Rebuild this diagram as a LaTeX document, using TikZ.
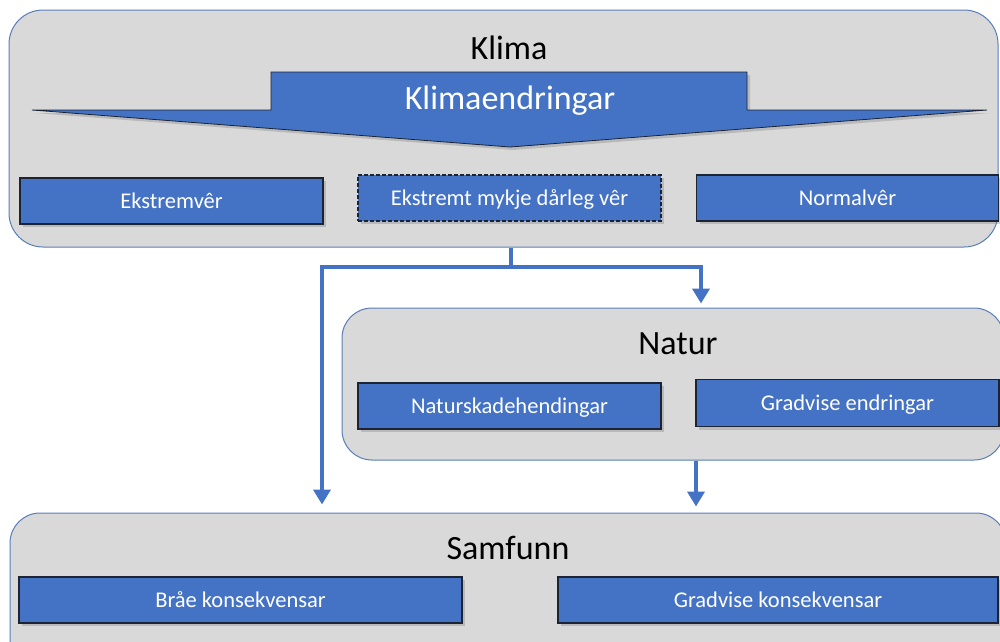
\documentclass[tikz,border=0pt]{standalone}
\usepackage{fontspec}
\setmainfont{Carlito}
\usetikzlibrary{arrows.meta,shadows}
\definecolor{boxblue}{HTML}{4472C4}
\definecolor{panelgray}{HTML}{D9D9D9}
\definecolor{panelline}{HTML}{5A7DB9}
\definecolor{boxline}{HTML}{1C2433}
\begin{document}
\begin{tikzpicture}[x=1pt,y=-1pt,
  panel/.style={rounded corners=34pt, fill=panelgray, draw=panelline, line width=1pt, inner sep=0pt},
  title/.style={font=\fontsize{34}{40}\selectfont, text=black, text height=22pt, text depth=0pt},
  bluebox/.style={fill=boxblue, draw=boxline, line width=1.3pt, text=white,
     font=\fontsize{22.5}{26}\selectfont, inner sep=0pt, text height=14pt, text depth=0pt,
     drop shadow={opacity=0.35, shadow xshift=3pt, shadow yshift=-3pt}},
  dashbox/.style={bluebox, dashed, dash pattern=on 4pt off 2pt},
  conn/.style={draw=boxblue, line width=4pt},
  arr/.style={conn, -{Triangle[width=17pt,length=15pt]}}
]
\useasboundingbox (0,0) rectangle (1000,641);
\clip (0,0) rectangle (1000,641);
\fill[white] (0,0) rectangle (1000,641);

% panels
\node[panel, minimum width=989pt, minimum height=237pt] (klima) at (503.5,128.5) {};
\node[panel, minimum width=662pt, minimum height=152pt, rounded corners=30pt] (natur) at (673,384) {};
\node[panel, minimum width=996pt, minimum height=170pt, rounded corners=30pt] (samfunn) at (508,598) {};

% titles
\node[title] (klimat) at (509,48) {Klima};
\node[title] (naturt) at (678,343) {Natur};
\node[title] (samfunnt) at (508,548) {Samfunn};

% big arrow shape
\path[fill=boxblue, draw=boxline, line width=0.8pt,
  drop shadow={opacity=0.35, shadow xshift=3pt, shadow yshift=-3pt}]
  (32,110) -- (271,110) -- (271,72) -- (747,72) -- (747,110) -- (987,110) -- (510,147) -- cycle;
\node[text=white, font=\fontsize{34}{40}\selectfont, text height=22pt, text depth=0pt] (klimaendr) at (510,98) {Klimaendringar};

% boxes
\node[bluebox, minimum width=303pt, minimum height=46pt] (ekst) at (171.5,201) {Ekstremvêr};
\node[dashbox, minimum width=303pt, minimum height=46pt] (dlv) at (509.5,198) {Ekstremt mykje dårleg vêr};
\node[bluebox, minimum width=302pt, minimum height=46pt] (norm) at (847.5,198) {Normalvêr};
\node[bluebox, minimum width=303pt, minimum height=46pt] (nsk) at (509.5,406) {Naturskadehendingar};
\node[bluebox, minimum width=303pt, minimum height=47pt] (gre) at (847.5,403) {Gradvise endringar};
\node[bluebox, minimum width=443pt, minimum height=46pt] (bra) at (240.5,600) {Bråe konsekvensar};
\node[bluebox, minimum width=440pt, minimum height=46pt] (gk) at (778,600) {Gradvise konsekvensar};

% connectors
\coordinate (split) at (511,267);
\coordinate (lt) at (322,267);
\coordinate (rt) at (701,267);
\coordinate (nd) at (696,0);
\draw[conn] (klima.south -| split) -- (split);
\draw[arr, shorten >=8pt] (split) -- (lt) -- (lt |- samfunn.north);
\draw[arr, shorten >=4pt] (split) -- (rt) -- (rt |- natur.north);
\draw[arr, shorten >=6pt] (natur.south -| nd) -- (samfunn.north -| nd);
\end{tikzpicture}
\end{document}
